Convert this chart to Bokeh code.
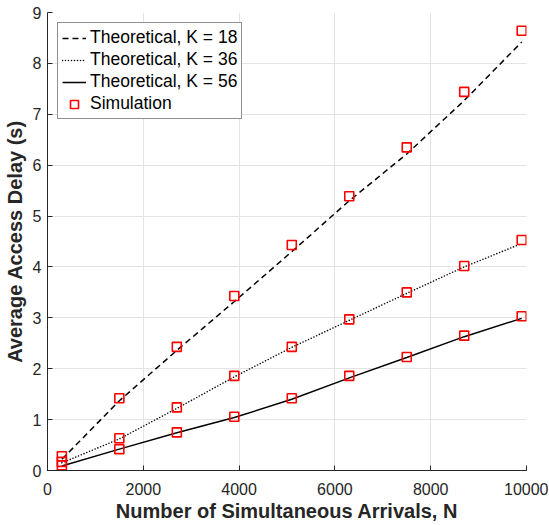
from bokeh.plotting import figure
from bokeh.models import Legend, LegendItem, Range1d, FixedTicker
from bokeh.embed import file_html
from bokeh.resources import INLINE

# ---- data ----
n_arrivals = [300, 1500, 2700, 3900, 5100, 6300, 7500, 8700, 9900]
theory_k18 = [0.22, 1.37, 2.36, 3.32, 4.30, 5.30, 6.22, 7.27, 8.42]
theory_k36 = [0.15, 0.62, 1.22, 1.84, 2.42, 2.95, 3.48, 4.00, 4.46]
theory_k56 = [0.09, 0.42, 0.74, 1.04, 1.40, 1.82, 2.22, 2.63, 2.99]
sim_k18 = [0.28, 1.42, 2.43, 3.43, 4.43, 5.39, 6.35, 7.44, 8.64]
sim_k36 = [0.17, 0.635, 1.24, 1.86, 2.43, 2.97, 3.50, 4.02, 4.53]
sim_k56 = [0.10, 0.42, 0.75, 1.055, 1.42, 1.86, 2.23, 2.65, 3.03]
x_ticks = [0, 2000, 4000, 6000, 8000, 10000]
y_ticks = [0, 1, 2, 3, 4, 5, 6, 7, 8, 9]
legend_labels = ["Theoretical, K = 18", "Theoretical, K = 36",
                 "Theoretical, K = 56", "Simulation"]
x_label = "Number of Simultaneous Arrivals, N"
y_label = "Average Access Delay (s)"

FONT = "Liberation Sans"
DARK = "#262626"

p = figure(width=548, height=524, output_backend="svg", toolbar_location=None,
           x_range=Range1d(0, 10000), y_range=Range1d(0, 9),
           min_border_left=47, min_border_right=22, min_border_top=12,
           min_border_bottom=54)
p.outline_line_color = None
p.background_fill_color = "white"
p.border_fill_color = "white"

p.xaxis.ticker = FixedTicker(ticks=x_ticks)
p.yaxis.ticker = FixedTicker(ticks=y_ticks)
for ax in (p.xaxis, p.yaxis):
    ax.axis_line_color = DARK
    ax.axis_line_width = 1
    ax.major_tick_line_color = DARK
    ax.major_tick_in = 5
    ax.major_tick_out = 0
    ax.minor_tick_line_color = None
    ax.major_label_text_font = FONT
    ax.major_label_text_font_size = "16px"
    ax.major_label_text_color = DARK
    ax.axis_label_text_font = FONT
    ax.axis_label_text_font_size = "20px"
    ax.axis_label_text_font_style = "bold"
    ax.axis_label_text_color = DARK
p.xaxis.axis_label = x_label
p.yaxis.axis_label = y_label
p.xaxis.major_label_standoff = 12
p.xaxis.axis_label_standoff = 2
p.yaxis.major_label_standoff = 6
p.yaxis.axis_label_standoff = 4

p.grid.grid_line_color = "#e3e3e3"
p.grid.grid_line_width = 1

r18 = p.line(n_arrivals, theory_k18, line_color="black", line_width=1.5, line_dash="6 4")
r36 = p.line(n_arrivals, theory_k36, line_color="black", line_width=1.6,
             line_dash="0 3", line_cap="round")
r56 = p.line(n_arrivals, theory_k56, line_color="black", line_width=1.5)

sims = []
for ys in (sim_k18, sim_k36, sim_k56):
    sims.append(p.scatter(n_arrivals, ys, marker="square", size=9,
                          line_color="#ff0000", line_width=1.6, fill_color=None))

legend = Legend(items=[
    LegendItem(label=legend_labels[0], renderers=[r18]),
    LegendItem(label=legend_labels[1], renderers=[r36]),
    LegendItem(label=legend_labels[2], renderers=[r56]),
    LegendItem(label=legend_labels[3], renderers=[sims[0]]),
], location="top_left")
legend.margin = 10
legend.padding = 4
legend.spacing = 1
legend.glyph_width = 24
legend.glyph_height = 20
legend.label_height = 21
legend.label_standoff = 4
legend.label_text_font = FONT
legend.label_text_font_size = "17.5px"
legend.label_text_color = "black"
legend.border_line_color = DARK
legend.border_line_width = 1
legend.background_fill_color = "white"
legend.background_fill_alpha = 1
p.add_layout(legend)

open("out.html", "w").write(file_html(p, INLINE))
